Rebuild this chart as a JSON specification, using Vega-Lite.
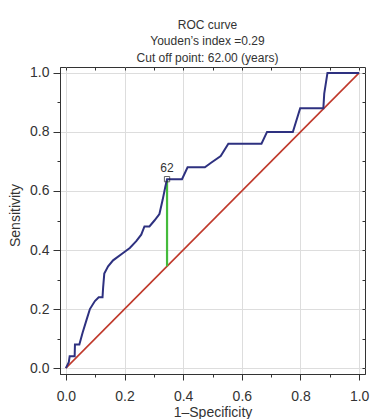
{
  "$schema": "https://vega.github.io/schema/vega-lite/v6.json",
  "autosize": "none",
  "width": 305,
  "height": 307,
  "padding": {"left": 60, "top": 67, "right": 7, "bottom": 45},
  "background": "white",
  "title": {
    "text": ["ROC curve", "Youden’s index =0.29", "Cut off point: 62.00 (years)"],
    "fontSize": 12,
    "fontWeight": "normal",
    "font": "Liberation Sans",
    "color": "#333",
    "lineHeight": 16.5,
    "anchor": "middle",
    "dx": -5,
    "offset": 1
  },
  "config": {
    "view": {"stroke": "#333", "strokeWidth": 1},
    "font": "Liberation Sans"
  },
  "datasets": {
    "roc": [
      {"fpr": 0, "tpr": 0}, {"fpr": 0.01, "tpr": 0.02}, {"fpr": 0.013, "tpr": 0.04},
      {"fpr": 0.03, "tpr": 0.04}, {"fpr": 0.031, "tpr": 0.08}, {"fpr": 0.046, "tpr": 0.08},
      {"fpr": 0.057, "tpr": 0.12}, {"fpr": 0.071, "tpr": 0.165}, {"fpr": 0.082, "tpr": 0.2},
      {"fpr": 0.099, "tpr": 0.227}, {"fpr": 0.112, "tpr": 0.24}, {"fpr": 0.125, "tpr": 0.24},
      {"fpr": 0.127, "tpr": 0.272}, {"fpr": 0.131, "tpr": 0.32}, {"fpr": 0.144, "tpr": 0.345},
      {"fpr": 0.161, "tpr": 0.365}, {"fpr": 0.195, "tpr": 0.39}, {"fpr": 0.218, "tpr": 0.407},
      {"fpr": 0.24, "tpr": 0.43}, {"fpr": 0.257, "tpr": 0.452}, {"fpr": 0.268, "tpr": 0.48},
      {"fpr": 0.285, "tpr": 0.48}, {"fpr": 0.302, "tpr": 0.5}, {"fpr": 0.319, "tpr": 0.522},
      {"fpr": 0.33, "tpr": 0.57}, {"fpr": 0.339, "tpr": 0.614}, {"fpr": 0.345, "tpr": 0.64},
      {"fpr": 0.396, "tpr": 0.64}, {"fpr": 0.415, "tpr": 0.68}, {"fpr": 0.474, "tpr": 0.68},
      {"fpr": 0.494, "tpr": 0.695}, {"fpr": 0.528, "tpr": 0.718}, {"fpr": 0.554, "tpr": 0.76},
      {"fpr": 0.667, "tpr": 0.76}, {"fpr": 0.686, "tpr": 0.8}, {"fpr": 0.774, "tpr": 0.8},
      {"fpr": 0.799, "tpr": 0.88}, {"fpr": 0.878, "tpr": 0.88}, {"fpr": 0.881, "tpr": 0.93},
      {"fpr": 0.892, "tpr": 1.0}, {"fpr": 1.0, "tpr": 1.0}
    ],
    "diag": [{"fpr": 0, "tpr": 0}, {"fpr": 1, "tpr": 1}],
    "cut": [{"fpr": 0.345, "lo": 0.345, "hi": 0.64, "label": "62"}]
  },
  "layer": [
    {
      "data": {"name": "diag"},
      "mark": {"type": "line", "color": "#c0392b", "strokeWidth": 1.6},
      "encoding": {
        "x": {
          "field": "fpr", "type": "quantitative",
          "scale": {"domain": [-0.02, 1.02], "nice": false, "zero": false},
          "axis": {
            "orient": "bottom", "values": [0, 0.2, 0.4, 0.6, 0.8, 1.0], "format": ".1f",
            "grid": true, "gridColor": "#dddddd", "gridWidth": 1,
            "tickSize": 6, "tickColor": "#333", "domainColor": "#333",
            "labelFontSize": 14, "labelColor": "#333", "labelPadding": 9,
            "title": "1–Specificity", "titleFontSize": 14, "titleFontWeight": "normal",
            "titleColor": "#333", "titlePadding": 2
          }
        },
        "y": {
          "field": "tpr", "type": "quantitative",
          "scale": {"domain": [-0.02, 1.02], "nice": false, "zero": false},
          "axis": {
            "orient": "left", "values": [0, 0.2, 0.4, 0.6, 0.8, 1.0], "format": ".1f",
            "grid": true, "gridColor": "#dddddd", "gridWidth": 1,
            "tickSize": 7, "tickColor": "#333", "domainColor": "#333",
            "labelFontSize": 14, "labelColor": "#333", "labelPadding": 4,
            "title": "Sensitivity", "titleFontSize": 14, "titleFontWeight": "normal",
            "titleColor": "#333", "titlePadding": 7, "titleY": 148
          }
        }
      }
    },
    {
      "data": {"name": "cut"},
      "mark": {"type": "rule", "color": "#44bb3c", "strokeWidth": 2.2},
      "encoding": {
        "x": {
          "field": "fpr", "type": "quantitative",
          "axis": {
            "orient": "bottom", "values": [0.1, 0.3, 0.5, 0.7, 0.9],
            "labels": false, "domain": false, "grid": false, "tickSize": 3,
            "tickColor": "#333", "title": null
          }
        },
        "y": {
          "field": "lo", "type": "quantitative",
          "axis": {
            "orient": "left", "values": [0.1, 0.3, 0.5, 0.7, 0.9],
            "labels": false, "domain": false, "grid": false, "tickSize": 3,
            "tickColor": "#333", "title": null
          }
        },
        "y2": {"field": "hi"}
      }
    },
    {
      "data": {"name": "roc"},
      "mark": {"type": "line", "color": "#2e3180", "strokeWidth": 2},
      "encoding": {
        "x": {
          "field": "fpr", "type": "quantitative",
          "axis": {
            "orient": "top", "values": [0, 0.1, 0.2, 0.3, 0.4, 0.5, 0.6, 0.7, 0.8, 0.9, 1.0],
            "labels": false, "domain": false, "grid": false, "tickSize": -3,
            "tickColor": "#333", "title": null
          }
        },
        "y": {
          "field": "tpr", "type": "quantitative",
          "axis": {
            "orient": "right", "values": [0, 0.1, 0.2, 0.3, 0.4, 0.5, 0.6, 0.7, 0.8, 0.9, 1.0],
            "labels": false, "domain": false, "grid": false, "tickSize": -3,
            "tickColor": "#333", "title": null
          }
        }
      }
    },
    {
      "data": {"name": "cut"},
      "mark": {"type": "point", "shape": "square", "size": 28, "filled": false, "stroke": "#222", "strokeWidth": 1},
      "encoding": {
        "x": {"field": "fpr", "type": "quantitative", "axis": null},
        "y": {"field": "hi", "type": "quantitative", "axis": null}
      }
    },
    {
      "data": {"name": "cut"},
      "mark": {"type": "text", "fontSize": 12, "color": "#333", "dy": -11},
      "encoding": {
        "x": {"field": "fpr", "type": "quantitative", "axis": null},
        "y": {"field": "hi", "type": "quantitative", "axis": null},
        "text": {"field": "label"}
      }
    }
  ],
  "resolve": {"axis": {"x": "independent", "y": "independent"}}
}
